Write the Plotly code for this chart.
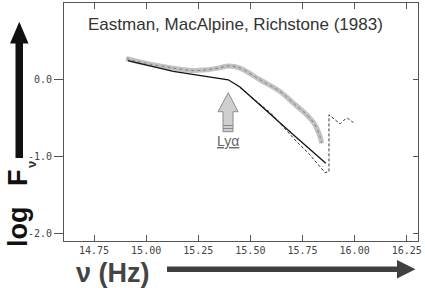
import plotly.graph_objects as go

# ---- data ----
nu_obs = [14.905, 14.95, 15.019, 15.130, 15.226, 15.290, 15.350, 15.398, 15.450, 15.546, 15.642, 15.706, 15.770, 15.810, 15.834, 15.842]
logF_obs = [0.28, 0.245, 0.204, 0.152, 0.12, 0.130, 0.155, 0.18, 0.152, 0.0, -0.152, -0.304, -0.456, -0.587, -0.739, -0.826]

nu_model = [14.912, 15.130, 15.394, 15.450, 15.706, 15.862]
logF_model = [0.25, 0.108, 0.0, -0.095, -0.717, -1.086]

nu_dash = [15.45, 15.60, 15.72, 15.78, 15.858, 15.877, 15.877, 15.906, 15.930, 15.946, 15.965, 15.994]
logF_dash = [-0.10, -0.44, -0.80, -0.96, -1.21, -1.196, -0.456, -0.522, -0.574, -0.530, -0.50, -0.557]

x_ticks = [14.75, 15.00, 15.25, 15.50, 15.75, 16.00, 16.25]
x_labels = ["14.75", "15.00", "15.25", "15.50", "15.75", "16.00", "16.25"]
y_ticks = [-2.0, -1.0, 0.0]
y_labels = ["-2.0", "-1.0", "0.0"]

title_text = "Eastman, MacAlpine, Richstone (1983)"
lya_text = "<u>Lyα</u>"

W, H = 425, 288
L, R, T, B = 64, 7, 3, 47
PW, PH = W - L - R, H - T - B
XR = [14.606, 16.304]
YR = [-2.1, 1.0]

def px(x):
    return (x - L) / PW

def py(y):
    return (H - B - y) / PH

def dx(p):
    return XR[0] + (p - L) / PW * (XR[1] - XR[0])

def dy(p):
    return YR[1] - (p - T) / PH * (YR[1] - YR[0])

def path_paper(pts):
    return "M " + " L ".join(f"{px(a):.5f},{py(b):.5f}" for a, b in pts) + " Z"

def path_data(pts):
    return "M " + " L ".join(f"{dx(a):.5f},{dy(b):.5f}" for a, b in pts) + " Z"

fig = go.Figure()
fig.add_trace(go.Scatter(x=nu_obs, y=logF_obs, mode="lines",
                         line=dict(color="#c2c2c2", width=5, shape="spline"), hoverinfo="skip"))
fig.add_trace(go.Scatter(x=nu_obs, y=logF_obs, mode="lines",
                         line=dict(color="#808080", width=1, dash="dot", shape="spline"), hoverinfo="skip"))
fig.add_trace(go.Scatter(x=nu_dash, y=logF_dash, mode="lines",
                         line=dict(color="#333333", width=1, dash="3px,2px"), hoverinfo="skip"))
fig.add_trace(go.Scatter(x=nu_model, y=logF_model, mode="lines",
                         line=dict(color="#111111", width=1.3), hoverinfo="skip"))
fig.add_trace(go.Scatter(x=[XR[0]], y=[YR[0]], yaxis="y2", mode="markers",
                         marker=dict(opacity=0), hoverinfo="skip"))

tickfont = dict(family="DejaVu Sans Mono", size=10, color="#444444")
fig.update_layout(
    template="none",
    width=W, height=H, margin=dict(l=L, r=R, t=T, b=B, pad=0),
    paper_bgcolor="white", plot_bgcolor="white", showlegend=False,
    xaxis=dict(range=XR, tickvals=x_ticks, ticktext=x_labels, ticks="inside", ticklen=6,
               tickcolor="#555", showline=True, linecolor="#555", linewidth=1, mirror="ticks",
               showgrid=False, zeroline=False, tickfont=tickfont, automargin=False),
    yaxis=dict(range=YR, tickvals=y_ticks, ticktext=y_labels, ticks="outside", ticklen=9,
               tickcolor="#555", showline=True, linecolor="#555", linewidth=1, mirror=True,
               showgrid=False, zeroline=False, tickfont=tickfont, automargin=False),
    yaxis2=dict(range=YR, overlaying="y", side="right", tickvals=y_ticks, ticks="inside",
                ticklen=5, tickcolor="#555", showticklabels=False, showgrid=False,
                zeroline=False, showline=False, automargin=False),
)

# Ly-alpha block arrow (data coords)
lya_pts = [(228.3, 92.7), (238, 111.7), (233, 111.7), (233, 131.7), (223, 131.7), (223, 111.7), (218, 111.7)]
fig.add_shape(type="path", xref="x", yref="y", path=path_data(lya_pts),
              fillcolor="#cfcfcf", line=dict(color="#8a8a8a", width=1))
for yy in (125.5, 128.5):
    fig.add_shape(type="line", xref="x", yref="y", x0=dx(223), x1=dx(233), y0=dy(yy), y1=dy(yy),
                  line=dict(color="#8a8a8a", width=1))

# big vertical arrow
v_pts = [(19.3, 21.7), (28.5, 43.5), (23, 43.5), (23, 158), (15.5, 158), (15.5, 43.5), (10, 43.5)]
fig.add_shape(type="path", xref="paper", yref="paper", path=path_paper(v_pts),
              fillcolor="#111111", line=dict(width=0))
# big horizontal arrow
h_pts = [(167, 266.5), (397, 266.5), (397, 260), (415.5, 269.2), (397, 278.5), (397, 272), (167, 272)]
fig.add_shape(type="path", xref="paper", yref="paper", path=path_paper(h_pts),
              fillcolor="#404040", line=dict(width=0))

fig.add_annotation(text=title_text, xref="paper", yref="paper", x=px(235), y=py(24),
                   xanchor="center", yanchor="middle", showarrow=False,
                   font=dict(family="Liberation Sans", size=17, color="#333333"))
fig.add_annotation(text=lya_text, xref="paper", yref="paper", x=px(228), y=py(141),
                   xanchor="center", yanchor="middle", showarrow=False,
                   font=dict(family="Liberation Sans", size=14, color="#666666"))
fig.add_annotation(text="<b>log</b>", xref="paper", yref="paper", x=px(18), y=py(227),
                   xanchor="center", yanchor="middle", showarrow=False, textangle=-90,
                   font=dict(family="Liberation Sans", size=27, color="#111111"))
fig.add_annotation(text="<b>F</b>", xref="paper", yref="paper", x=px(18), y=py(178),
                   xanchor="center", yanchor="middle", showarrow=False, textangle=-90,
                   font=dict(family="Liberation Sans", size=27, color="#111111"))
fig.add_annotation(text="<b>ν</b>", xref="paper", yref="paper", x=px(31), y=py(165),
                   xanchor="center", yanchor="middle", showarrow=False, textangle=-90,
                   font=dict(family="Liberation Sans", size=13, color="#333333"))
fig.add_annotation(text="<b>ν (Hz)</b>", xref="paper", yref="paper", x=px(113), y=py(272.5),
                   xanchor="center", yanchor="middle", showarrow=False,
                   font=dict(family="Liberation Sans", size=27, color="#444444"))

fig.write_html("out.html", config={"displayModeBar": False},
               post_script="document.body.style.margin='0';document.body.style.overflow='hidden';")
